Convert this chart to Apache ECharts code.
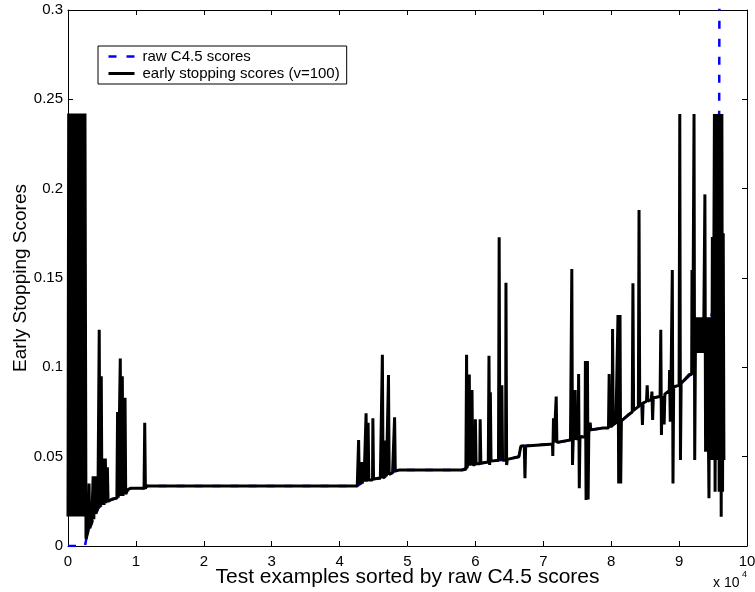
<!DOCTYPE html>
<html>
<head>
<meta charset="utf-8">
<script src="https://cdn.jsdelivr.net/npm/echarts@6/dist/echarts.min.js"></script>
<style>
html,body{margin:0;padding:0;background:#fff;}
#chart{width:755px;height:592px;}
</style>
</head>
<body>
<div id="chart"></div>
<script>
// Tick values (x in units of 10^4 test examples)
const xTicks = [0,1,2,3,4,5,6,7,8,9,10];
const yTicks = [0,0.05,0.1,0.15,0.2,0.25,0.3];

// raw C4.5 scores (sorted)
const rawX = [0,0.25,0.27,0.30,0.35,0.41,0.44,0.50,0.56,0.64,0.74,0.85,0.88,0.92,1.14,1.16,4.26,4.36,4.50,4.64,4.73,4.82,4.88,5.80,5.88,5.96,6.08,6.23,6.47,6.64,6.67,7.10,7.40,7.54,7.67,7.70,7.88,8.03,8.15,8.25,8.47,8.62,8.75,8.92,9.03,9.20,9.24,9.45,9.55,9.59,9.595];
const rawY = [0,0,0.004,0.009,0.013,0.018,0.021,0.023,0.024,0.026,0.027,0.029,0.0315,0.0323,0.0323,0.0336,0.0336,0.036,0.0375,0.038,0.040,0.042,0.0425,0.0425,0.044,0.0455,0.0463,0.0475,0.0485,0.050,0.056,0.057,0.0593,0.061,0.063,0.065,0.066,0.068,0.070,0.0733,0.080,0.083,0.084,0.089,0.091,0.097,0.108,0.125,0.14,0.24,0.33];

// early stopping scores (v=100)
const esX = [
 0,0.01,0.03,0.05,0.07,0.09,0.11,0.13,0.15,0.17,0.19,0.21,0.23,0.25,0.265,
 0.28,0.30,0.31,0.32,0.35,0.37,0.38,0.40,0.41,0.44,0.46,0.47,0.49,0.50,0.52,0.53,0.55,0.56,0.58,0.59,0.64,
 0.72,0.73,0.74,0.765,0.77,0.78,0.795,0.80,0.81,0.835,0.84,0.85,0.88,0.92,1.12,1.13,1.14,1.16,
 4.26,4.28,4.29,4.31,4.33,4.35,4.36,4.385,4.39,4.40,4.415,4.42,4.43,4.485,4.49,4.50,4.60,4.625,4.63,4.64,4.675,4.68,4.69,4.715,4.72,4.73,4.78,4.805,4.81,4.82,4.88,
 5.80,5.86,5.87,5.88,5.905,5.91,5.92,5.945,5.95,5.96,5.995,6.00,6.01,6.065,6.07,6.08,6.19,6.20,6.21,6.22,6.23,
 6.34,6.35,6.36,6.385,6.39,6.40,6.445,6.45,6.46,6.47,6.64,6.67,6.72,6.73,6.74,
 7.10,7.135,7.14,7.15,7.16,7.185,7.19,7.20,7.40,7.415,7.42,7.43,7.44,7.465,7.47,7.48,7.515,7.52,7.53,7.54,7.615,7.62,7.63,7.65,7.66,7.67,7.69,7.70,
 7.88,7.96,7.97,7.98,8.015,8.02,8.03,8.07,8.095,8.10,8.11,8.13,8.14,8.15,8.25,8.31,8.32,8.33,8.40,8.41,8.42,8.45,8.46,8.47,
 8.52,8.53,8.54,8.59,8.60,8.61,8.62,8.72,8.73,8.74,8.75,8.775,8.78,8.79,8.855,8.86,8.87,8.88,8.895,8.90,8.91,8.92,
 9.00,9.01,9.02,9.03,9.15,9.185,9.19,9.20,9.215,9.22,9.23,9.24,9.26,9.28,9.30,9.32,9.34,9.36,9.38,9.39,9.41,9.42,9.44,9.45,9.47,
 9.48,9.49,9.50,9.52,9.53,9.55,9.56,9.58,9.59,9.61,9.62,9.63,9.64,9.65,9.66
];
const esY = [
 0.0165,0.242,0.0165,0.242,0.0165,0.242,0.0165,0.242,0.0165,0.242,0.0165,0.242,0.0165,0.242,0.004,
 0.006,0.009,0.035,0.01,0.013,0.039,0.015,0.039,0.018,0.021,0.121,0.022,0.095,0.023,0.049,0.023,0.049,0.024,0.044,0.025,0.026,
 0.027,0.075,0.027,0.027,0.105,0.028,0.028,0.095,0.028,0.028,0.083,0.029,0.0315,0.0323,0.0323,0.069,0.0323,0.0336,
 0.0336,0.0593,0.0345,0.047,0.035,0.047,0.036,0.036,0.0743,0.036,0.036,0.069,0.037,0.037,0.0715,0.0375,0.038,0.038,0.107,0.038,0.039,0.059,0.039,0.040,0.0957,0.040,0.041,0.041,0.072,0.042,0.0425,
 0.0425,0.043,0.107,0.044,0.044,0.096,0.045,0.045,0.0873,0.0455,0.0455,0.0709,0.046,0.046,0.0709,0.0463,0.047,0.1065,0.0453,0.086,0.0475,
 0.048,0.1728,0.048,0.048,0.09,0.048,0.048,0.1474,0.0453,0.0485,0.050,0.056,0.056,0.0379,0.056,
 0.057,0.057,0.0504,0.0715,0.058,0.058,0.0836,0.058,0.0593,0.0593,0.155,0.0453,0.059,0.059,0.0873,0.060,0.060,0.0963,0.0323,0.061,0.061,0.1035,0.0257,0.1035,0.026,0.063,0.069,0.065,
 0.066,0.066,0.0963,0.067,0.067,0.1215,0.068,0.069,0.069,0.1293,0.035,0.1293,0.035,0.070,0.0733,0.075,0.147,0.076,0.078,0.188,0.079,0.0799,0.0677,0.080,
 0.081,0.09,0.081,0.082,0.0864,0.0705,0.083,0.0836,0.121,0.0621,0.084,0.084,0.068,0.085,0.087,0.0985,0.0696,0.088,0.088,0.1545,0.035,0.089,
 0.090,0.2418,0.0481,0.091,0.096,0.096,0.1545,0.097,0.097,0.2418,0.0481,0.108,0.128,0.108,0.128,0.108,0.128,0.108,0.1968,0.0528,0.128,0.108,0.0267,0.128,0.108,
 0.0481,0.173,0.0481,0.2418,0.0304,0.2418,0.0481,0.2418,0.0304,0.2418,0.0164,0.2418,0.0304,0.175,0.0481
];

const FONT = 'Liberation Sans, Arial, Helvetica, sans-serif';
const rawData = rawX.map((x, i) => [x, rawY[i]]);
const esData = esX.map((x, i) => [x, esY[i]]);

const chart = echarts.init(document.getElementById('chart'), null, {renderer: 'canvas'});

const axisCommon = {
  type: 'value',
  axisLine: {show: true, onZero: false, lineStyle: {color: '#000', width: 1}},
  axisTick: {show: true, inside: true, length: 5, lineStyle: {color: '#000', width: 1}},
  splitLine: {show: false},
  nameMoveOverlap: false
};

chart.setOption({
  animation: false,
  backgroundColor: '#fff',
  grid: {left: 68, right: 8, top: 10, bottom: 46, containLabel: false, outerBoundsMode: 'none'},
  legend: {
    show: true,
    orient: 'vertical',
    left: 98, top: 46,
    backgroundColor: '#fff',
    borderColor: '#000', borderWidth: 1, borderRadius: 0,
    padding: [3, 7, 3, 9],
    itemGap: 2, itemWidth: 26, itemHeight: 14,
    itemStyle: {opacity: 0},
    textStyle: {fontFamily: FONT, fontSize: 15, color: '#000', padding: [0, 0, 0, 3]},
    data: [
      {name: 'raw C4.5 scores', itemStyle: {opacity: 0}, lineStyle: {color: '#0000ff', width: 2.5, type: [8, 10]}},
      {name: 'early stopping scores (v=100)', itemStyle: {opacity: 0}, lineStyle: {color: '#000', width: 3, type: 'solid'}}
    ]
  },
  xAxis: [
    Object.assign({}, axisCommon, {
      position: 'bottom', min: xTicks[0], max: xTicks[xTicks.length - 1], interval: 1,
      axisLabel: {color: '#000', fontSize: 15, fontFamily: FONT, margin: 8},
      name: 'Test examples sorted by raw C4.5 scores', nameLocation: 'middle', nameGap: 21,
      nameTextStyle: {color: '#000', fontSize: 21, fontFamily: FONT}
    }),
    Object.assign({}, axisCommon, {
      position: 'top', min: xTicks[0], max: xTicks[xTicks.length - 1], interval: 1,
      axisLabel: {show: false}
    })
  ],
  yAxis: [
    Object.assign({}, axisCommon, {
      position: 'left', min: yTicks[0], max: yTicks[yTicks.length - 1], interval: 0.05,
      axisLabel: {color: '#000', fontSize: 15, fontFamily: FONT, margin: 5},
      name: 'Early Stopping Scores', nameLocation: 'middle', nameGap: 38,
      nameTextStyle: {color: '#000', fontSize: 19, fontFamily: FONT}
    }),
    Object.assign({}, axisCommon, {
      position: 'right', min: yTicks[0], max: yTicks[yTicks.length - 1], interval: 0.05,
      axisLabel: {show: false}
    })
  ],
  series: [
    {
      name: 'raw C4.5 scores', type: 'line', xAxisIndex: 0, yAxisIndex: 0,
      data: rawData, showSymbol: false, symbol: 'none', clip: true,
      lineStyle: {color: '#0000ff', width: 2.5, type: [8, 10], join: 'bevel'},
      itemStyle: {color: '#0000ff'}, z: 2
    },
    {
      name: 'early stopping scores (v=100)', type: 'line', xAxisIndex: 0, yAxisIndex: 0,
      data: esData, showSymbol: false, symbol: 'none', clip: true,
      lineStyle: {color: '#000', width: 3, join: 'bevel'},
      itemStyle: {color: '#000'}, z: 3
    }
  ],
  graphic: [
    {type: 'text', x: 713, y: 583, style: {text: 'x 10', fontSize: 14, fontFamily: FONT, fill: '#000', verticalAlign: 'middle'}},
    {type: 'text', x: 742, y: 575, style: {text: '4', fontSize: 9, fontFamily: FONT, fill: '#000', verticalAlign: 'middle'}}
  ]
});
</script>
</body>
</html>
